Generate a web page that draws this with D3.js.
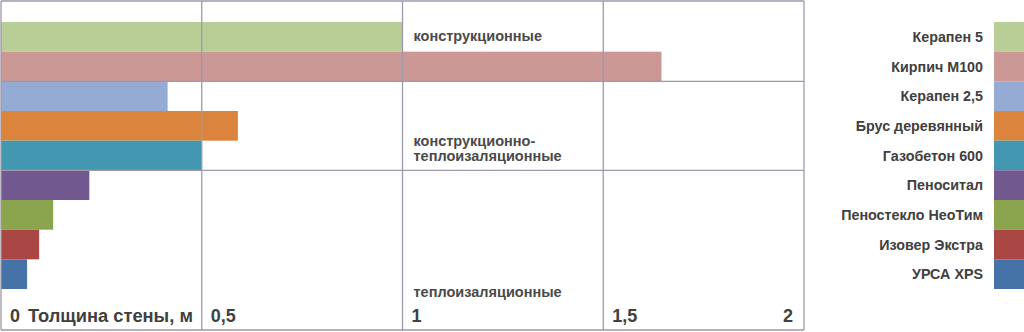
<!DOCTYPE html>
<html>
<head>
<meta charset="utf-8">
<script src="https://cdn.jsdelivr.net/npm/d3@7"></script>
<style>
  body { margin: 0; background: #fff; }
  svg { display: block; font-family: "Liberation Sans", Arial, sans-serif; font-weight: bold; }
</style>
</head>
<body>
<svg id="chart"></svg>
<script>
// data
var materials = ["Керапен 5", "Кирпич М100", "Керапен 2,5", "Брус деревянный", "Газобетон 600",
                 "Пеноситал", "Пеностекло НеоТим", "Изовер Экстра", "УРСА XPS"];
var thickness = [1.0, 1.645, 0.415, 0.59, 0.5, 0.22, 0.13, 0.095, 0.065];
var barColors = ["#b9cd96", "#cb9896", "#95abd3", "#db843d", "#4397b0",
                 "#71588f", "#8ba54e", "#aa4643", "#4572a7"];
var groupSizes = [2, 3, 4];
var groupNames = [["конструкционные"], ["конструкционно-", "теплоизаляционные"], ["теплоизаляционные"]];
var tickValues = [0, 0.5, 1, 1.5, 2];
var tickLabels = ["0", "0,5", "1", "1,5", "2"];
var axisTitle = "Толщина стены, м";

// layout
var width = 1024, height = 332;
var frameTop = 1, frameBottom = 330;
var groupLabelY = [41, 146, 297];
var GridColor = "#9d99ab", TextColor = "#404040";

var svg = d3.select("#chart").attr("width", width).attr("height", height);

var x = d3.scaleLinear().domain([0, 2]).range([1, 804]);
var y = d3.scaleBand().domain(materials).range([22, 289]).padding(0);

// bars
svg.selectAll("rect.bar")
  .data(materials)
  .enter().append("rect")
  .attr("class", "bar")
  .attr("x", x(0))
  .attr("y", function(d) { return y(d); })
  .attr("width", function(d, i) { return x(thickness[i]) - x(0); })
  .attr("height", y.bandwidth())
  .attr("fill", function(d, i) { return barColors[i]; });

// vertical grid lines (incl. frame sides)
svg.selectAll("line.vgrid")
  .data(tickValues)
  .enter().append("line")
  .attr("class", "vgrid")
  .attr("x1", function(d) { return x(d); })
  .attr("x2", function(d) { return x(d); })
  .attr("y1", frameTop)
  .attr("y2", frameBottom)
  .attr("stroke", GridColor)
  .attr("stroke-width", 1.3);

// horizontal lines: frame top/bottom and group separators
var sepY = [frameTop, frameBottom];
var acc = 0;
groupSizes.slice(0, -1).forEach(function(n) {
  acc += n;
  sepY.push(y(materials[acc]));
});
svg.selectAll("line.hgrid")
  .data(sepY)
  .enter().append("line")
  .attr("class", "hgrid")
  .attr("x1", x(0))
  .attr("x2", x(2))
  .attr("y1", function(d) { return d; })
  .attr("y2", function(d) { return d; })
  .attr("stroke", GridColor)
  .attr("stroke-width", 1.3);

// group labels
groupNames.forEach(function(lines, g) {
  var t = svg.append("text")
    .attr("x", x(1) + 11)
    .attr("y", groupLabelY[g])
    .style("font-size", "14.5px")
    .attr("fill", "#4a4a4a");
  lines.forEach(function(s, k) {
    t.append("tspan")
      .attr("x", x(1) + 11)
      .attr("dy", k === 0 ? 0 : 15)
      .text(s);
  });
});

// tick labels
svg.selectAll("text.tick")
  .data(tickValues)
  .enter().append("text")
  .attr("class", "tick")
  .attr("x", function(d, i) { return i === tickValues.length - 1 ? x(d) - 11 : x(d) + 9; })
  .attr("y", 322)
  .attr("text-anchor", function(d, i) { return i === tickValues.length - 1 ? "end" : "start"; })
  .style("font-size", "18px")
  .attr("fill", TextColor)
  .text(function(d, i) { return tickLabels[i]; });

svg.append("text")
  .attr("x", x(0) + 27)
  .attr("y", 322)
  .style("font-size", "18.3px")
  .attr("fill", TextColor)
  .text(axisTitle);

// legend
svg.selectAll("rect.swatch")
  .data(materials)
  .enter().append("rect")
  .attr("class", "swatch")
  .attr("x", 994)
  .attr("y", function(d) { return y(d); })
  .attr("width", 30)
  .attr("height", y.bandwidth())
  .attr("fill", function(d, i) { return barColors[i]; });

svg.selectAll("text.legend")
  .data(materials)
  .enter().append("text")
  .attr("class", "legend")
  .attr("x", 983)
  .attr("y", function(d) { return y(d) + y.bandwidth() / 2 + 5; })
  .attr("text-anchor", "end")
  .style("font-size", "14.3px")
  .attr("fill", TextColor)
  .text(function(d) { return d; });
</script>
</body>
</html>
